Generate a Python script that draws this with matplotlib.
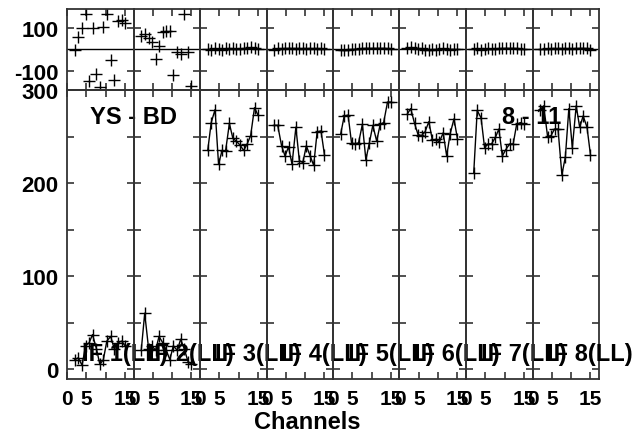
import matplotlib
matplotlib.use('Agg')
import matplotlib.pyplot as plt

plt.rcParams['font.family'] = ['Liberation Sans', 'DejaVu Sans']
plt.rcParams['font.weight'] = 'bold'

# channel positions
channels = [2, 2.9, 3.9, 4.8, 5.7, 6.6, 7.6, 8.5, 9.4, 10.3, 11.3, 12.2, 13.1, 14.1, 15]

if_labels = ['IF 1(LL)', 'IF 2(LL)', 'IF 3(LL)', 'IF 4(LL)',
             'IF 5(LL)', 'IF 6(LL)', 'IF 7(LL)', 'IF 8(LL)']

# amplitude (lower row)
amp_if1 = [10, 12, 4, 25, 28, 37, 22, 5, 10, 30, 35, 22, 28, 30, 25]
amp_if2 = [20, 60, 22, 25, 20, 35, 28, 20, 10, 25, 20, 32, 22, 8, 5]
amp_if3 = [235, 265, 279, 220, 235, 234, 264, 248, 245, 241, 235, 242, 251, 281, 273]
amp_if4 = [262, 262, 240, 229, 239, 220, 260, 224, 222, 240, 229, 219, 255, 256, 230]
amp_if5 = [253, 272, 273, 243, 242, 243, 263, 225, 243, 262, 245, 263, 265, 287, 287]
amp_if6 = [274, 280, 264, 252, 251, 255, 266, 246, 247, 244, 254, 229, 253, 269, 247]
amp_if7 = [211, 278, 270, 238, 242, 242, 249, 258, 229, 236, 242, 242, 263, 265, 263]
amp_if8 = [278, 283, 250, 251, 258, 258, 209, 228, 280, 238, 283, 260, 272, 260, 230]

# phase (upper row)
ph_if1 = [-3, 54, 96, 163, -147, 96, -116, -178, 101, 163, -50, -143, 132, 136, 120]
ph_if2 = [59, 70, 50, 34, -47, 15, 78, 85, 85, -121, -15, -23, 163, -15, -173]
ph_if3 = [2, -3, 4, 1, -2, 3, 0, 5, 2, -1, 3, 6, 8, 4, 2]
ph_if4 = [-2, 3, 1, 5, 7, 4, 2, 6, 3, 1, 4, 5, 2, 3, 0]
ph_if5 = [-4, -6, -2, 0, 2, 1, 3, 4, 6, 5, 7, 4, 3, 6, 2]
ph_if6 = [5, 8, 3, 2, 4, -3, -5, 1, -2, 2, 3, 1, -4, 2, 0]
ph_if7 = [1, 3, -2, 2, 4, 2, 0, 3, 5, 6, 4, 7, 5, 2, 1]
ph_if8 = [2, -1, 3, 1, 4, 6, 2, 3, 5, 1, 4, 7, 6, 3, -2]

amps = [amp_if1, amp_if2, amp_if3, amp_if4, amp_if5, amp_if6, amp_if7, amp_if8]
phases = [ph_if1, ph_if2, ph_if3, ph_if4, ph_if5, ph_if6, ph_if7, ph_if8]

W, H = 637, 435
fig = plt.figure(figsize=(W / 100, H / 100), dpi=100)

x0, x1 = 67, 599
pw = (x1 - x0) / 8.0
frame_col = '#333333'

def style(ax):
    ax.patch.set_visible(False)
    for s in ax.spines.values():
        s.set_color(frame_col)
        s.set_linewidth(1.3)
    ax.tick_params(which='both', direction='in', top=True, right=True,
                   length=5, width=1.2, color=frame_col)
    ax.set_xlim(0, 17.2)
    ax.set_xticks([0, 5, 10, 15])

for i in range(8):
    left = (x0 + i * pw) / W
    # phase panel
    axp = fig.add_axes([left, 1 - 91 / H, pw / W, (91 - 10) / H])
    style(axp)
    axp.set_ylim(-190, 186)
    axp.set_yticks([-100, 100])
    axp.axhline(0, color='black', lw=1)
    axp.plot(channels, phases[i], ls='none', marker='+', ms=9, mew=1, color='black')
    axp.set_xticklabels([])
    if i == 0:
        axp.set_yticklabels(['-100', '100'], fontsize=16, fontweight='bold')
        axp.tick_params(axis='y', pad=6)
    else:
        axp.set_yticklabels([])

    # amplitude panel
    axa = fig.add_axes([left, 1 - 380 / H, pw / W, (380 - 91) / H])
    style(axa)
    axa.set_ylim(-10.75, 300)
    axa.set_yticks([0, 100, 200, 300])
    axa.set_yticks([50, 150, 250], minor=True)
    axa.plot(channels, amps[i], ls='-', lw=1, marker='+', ms=9, mew=1, color='black')
    axa.set_xticklabels(['0', '5', '', '15'], fontsize=15, fontweight='bold')
    axa.tick_params(axis='x', pad=7)
    if i == 0:
        axa.set_yticklabels(['0', '100', '200', '300'], fontsize=16, fontweight='bold')
        axa.tick_params(axis='y', pad=6)
        axa.text(6, 272, 'YS - BD', fontsize=17, fontweight='bold', va='center', ha='left')
    else:
        axa.set_yticklabels([])
    if i == 6:
        axa.text(9.3, 272, '8 - 11', fontsize=17, fontweight='bold', va='center', ha='left')
    axa.text(3.8, 10, if_labels[i], fontsize=17, fontweight='bold', va='baseline', ha='left')

fig.text(307 / W, 1 - 423 / H, 'Channels', fontsize=17, fontweight='bold', ha='center', va='center')

plt.savefig('out.png', dpi=100)
